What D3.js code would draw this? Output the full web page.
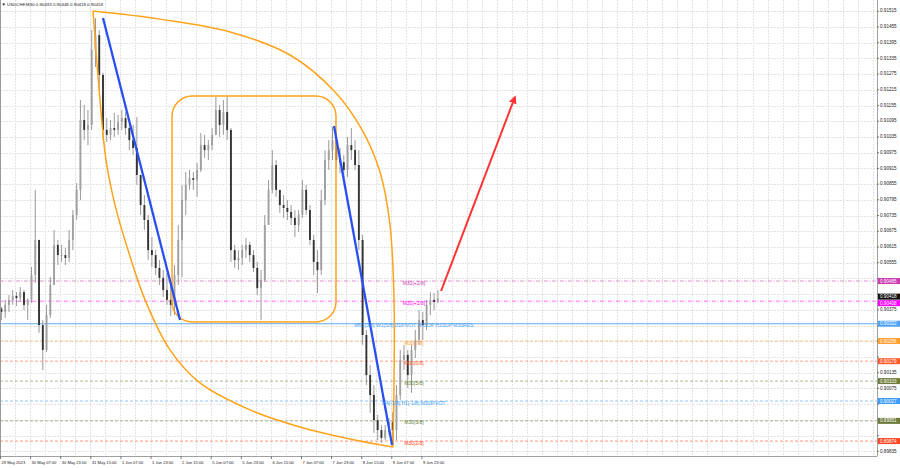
<!DOCTYPE html>
<html><head><meta charset="utf-8">
<script src="https://cdn.jsdelivr.net/npm/d3@7"></script>
<style>
body{margin:0;background:#fff}
svg{display:block}
text{font-family:"Liberation Sans",Arial,sans-serif}
</style>
</head><body>
<svg id="c" width="900" height="468"></svg>
<script>
// ---------- DATA ----------
const symbolInfo = "USDCHF,M30";
const lastOHLC = ["0.90433","0.90448","0.90418","0.90418"];
const timeLabels = ["29 May 2023","30 May 07:00","30 May 23:00","31 May 15:00","1 Jun 07:00","1 Jun 23:00",
  "2 Jun 15:00","5 Jun 07:00","5 Jun 23:00","6 Jun 15:00","7 Jun 07:00","7 Jun 23:00","8 Jun 15:00",
  "9 Jun 07:00","9 Jun 23:00"];
const barsPerLabel = 32;      // M30 bars between time labels
const barsPerCandle = 4;      // each drawn candle groups 4 M30 bars
const priceTicks = [0.91515,0.91455,0.91395,0.91335,0.91275,0.91215,0.91155,0.91095,0.91035,0.90975,
  0.90915,0.90855,0.90795,0.90735,0.90675,0.90615,0.90555,0.90495,0.90435,0.90375,0.90315,0.90255,
  0.90195,0.90135,0.90075,0.90015,0.89955,0.89895,0.89835];
const firstOpen = 0.90380;
const highs = [0.90386,0.90413,0.90432,0.90451,0.90443,0.90462,0.90451,0.90420,0.90539,0.90833,
  0.90642,0.90336,0.90394,0.90500,0.90680,0.90642,0.90623,0.90611,0.90680,0.90756,
  0.90859,0.91176,0.91157,0.91138,0.91443,0.91489,0.91443,0.91280,0.91107,0.91100,
  0.91127,0.91119,0.91138,0.91130,0.91088,0.91081,0.91111,0.90890,0.90813,0.90737,
  0.90653,0.90603,0.90565,0.90527,0.90516,0.90470,0.90546,0.90699,0.90852,0.90901,
  0.90909,0.90901,0.90936,0.91050,0.91043,0.91023,0.91069,0.91188,0.91157,0.91176,
  0.91188,0.91069,0.90623,0.90603,0.90623,0.90649,0.90634,0.90603,0.90558,0.90527,
  0.90737,0.90871,0.90985,0.90947,0.90833,0.90813,0.90794,0.90775,0.90756,0.90756,
  0.90871,0.90852,0.90775,0.90661,0.90603,0.90833,0.90985,0.91023,0.91073,0.91043,
  0.90993,0.90966,0.91035,0.91069,0.91023,0.90985,0.90661,0.90298,0.90164,0.90088,
  0.89974,0.89935,0.89935,0.89962,0.89985,0.90088,0.90222,0.90241,0.90222,0.90241,
  0.90298,0.90374,0.90367,0.90413,0.90443,0.90439,0.90451];
const lows = [0.90336,0.90344,0.90367,0.90394,0.90390,0.90405,0.90374,0.90336,0.90401,0.90478,
  0.90287,0.90145,0.90214,0.90344,0.90470,0.90546,0.90558,0.90546,0.90558,0.90603,
  0.90718,0.90794,0.91023,0.91004,0.91062,0.91302,0.91214,0.91023,0.91016,0.91023,
  0.91035,0.91043,0.91062,0.91043,0.90985,0.90966,0.90852,0.90737,0.90680,0.90565,
  0.90539,0.90508,0.90470,0.90424,0.90394,0.90351,0.90355,0.90470,0.90500,0.90737,
  0.90833,0.90833,0.90806,0.90901,0.90955,0.90947,0.90985,0.91043,0.91035,0.91043,
  0.91023,0.90558,0.90535,0.90527,0.90546,0.90573,0.90558,0.90519,0.90432,0.90336,
  0.90481,0.90699,0.90820,0.90806,0.90745,0.90726,0.90718,0.90699,0.90653,0.90672,
  0.90726,0.90737,0.90623,0.90508,0.90439,0.90508,0.90775,0.90909,0.90947,0.90917,
  0.90897,0.90878,0.90882,0.90947,0.90909,0.90603,0.90241,0.90088,0.89981,0.89905,
  0.89878,0.89867,0.89878,0.89897,0.89867,0.89878,0.90031,0.90145,0.90077,0.90058,
  0.90191,0.90241,0.90260,0.90298,0.90355,0.90374,0.90400];
const closes = [0.90367,0.90394,0.90413,0.90428,0.90420,0.90443,0.90394,0.90413,0.90508,0.90642,
  0.90317,0.90222,0.90355,0.90470,0.90623,0.90584,0.90584,0.90573,0.90642,0.90737,
  0.90833,0.91100,0.91062,0.91081,0.91367,0.91424,0.91272,0.91062,0.91043,0.91069,
  0.91062,0.91092,0.91107,0.91069,0.91023,0.90993,0.90890,0.90775,0.90718,0.90603,
  0.90584,0.90535,0.90497,0.90451,0.90413,0.90394,0.90508,0.90642,0.90794,0.90852,
  0.90878,0.90871,0.90909,0.91004,0.90985,0.91004,0.91043,0.91138,0.91081,0.91130,
  0.91062,0.90603,0.90565,0.90573,0.90603,0.90623,0.90584,0.90535,0.90458,0.90489,
  0.90699,0.90833,0.90928,0.90833,0.90775,0.90764,0.90749,0.90726,0.90699,0.90737,
  0.90833,0.90756,0.90642,0.90558,0.90527,0.90794,0.90947,0.90985,0.91023,0.90947,
  0.90939,0.90909,0.91004,0.90985,0.90928,0.90642,0.90279,0.90126,0.90050,0.89954,
  0.89916,0.89886,0.89916,0.89947,0.89916,0.90050,0.90184,0.90203,0.90126,0.90222,
  0.90260,0.90336,0.90317,0.90394,0.90413,0.90405,0.90418];

// level lines (Murrey / pivots)
const levelNames = ["M30[+2/8]","M30[+1/8]","MN1[3/8] W1[5/8] D1PIVOT H4SUP H1SUP M30RES","M30[7/8]",
  "M30[6/8]","M30[5/8]","H4[-1/8] H1[-1/8] M30PIVOT","M30[3/8]","M30[2/8]"];
const levelPrices = [0.90485,0.90408,0.90322,0.90256,0.90179,0.90103,0.90027,0.89951,0.89874];
const bidPrice = 0.90418;

// drawn objects, in (bar index, price)
const trend1 = [[109.5,0.91489],[191.4,0.90336]];
const trend2 = [[355.1,0.91077],[416.8,0.89859]];
const arrowPts = [[468.9,0.90447],[547.5,0.91188]];
const rangeBox = {b0:182.9, b1:357.2, pTop:0.91191, pBot:0.90329};
const arcUpper = [[98.9,0.91516],[170.1,0.91485],[244.5,0.91436],[308.3,0.91348],[356.2,0.91207],
  [384.9,0.91062],[404.0,0.90901],[414.6,0.90699],[418.9,0.90413],[418.9,0.90107],[417.8,0.89851]];
const arcLower = [[98.9,0.91516],[106.3,0.91176],[112.7,0.90947],[122.3,0.90775],[136.1,0.90603],
  [154.2,0.90413],[180.7,0.90222],[212.6,0.90096],[265.8,0.89993],[318.9,0.89928],[372.1,0.89882],[417.8,0.89851]];

// ---------- STYLES ----------
const levelColors = ["#c93cb0","#ff00ff","#4ea3f5","#ff9d2e","#ff5a2a","#6e7d3c","#3d9cf5","#6e7d3c","#ff4422"];
const levelDash = ["4,1.5,1,1.5","4,1.5,1,1.5",null,"3,2","3,2","3,2","3,2","3,2","3,2"];
const bidColor = "#111";

// ---------- CHART ----------
const plotR = 877, plotB = 456;
const svg = d3.select("#c");
const x = d3.scaleLinear().domain([0,935]).range([0,879.5]);
const y = d3.scaleLinear().domain([0.89817,0.91558]).range([plotB,0]);

svg.append("defs").append("clipPath").attr("id","clip")
  .append("rect").attr("x",0).attr("y",0).attr("width",plotR).attr("height",plotB);
svg.select("defs").append("marker").attr("id","ah").attr("viewBox","0 0 10 10")
  .attr("refX",8).attr("refY",5).attr("markerWidth",4).attr("markerHeight",4).attr("orient","auto")
  .append("path").attr("d","M0,0 L10,5 L0,10 z").attr("fill","#ff3333");

const plot = svg.append("g").attr("clip-path","url(#clip)");

// grid
const gridBars = d3.range(0, 936, barsPerLabel/2);
plot.append("g").selectAll("line").data(gridBars).join("line")
  .attr("x1",d=>Math.round(x(d))+0.5).attr("x2",d=>Math.round(x(d))+0.5)
  .attr("y1",0).attr("y2",plotB).attr("stroke","#e3e3e3").attr("stroke-dasharray","2,1");
plot.append("g").selectAll("line").data(priceTicks).join("line")
  .attr("x1",0).attr("x2",plotR)
  .attr("y1",d=>Math.round(y(d))+0.5).attr("y2",d=>Math.round(y(d))+0.5)
  .attr("stroke","#e3e3e3").attr("stroke-dasharray","2,1");

// level lines
plot.append("g").selectAll("line").data(levelPrices).join("line")
  .attr("x1",0).attr("x2",plotR)
  .attr("y1",d=>y(d)).attr("y2",d=>y(d))
  .attr("stroke",(d,i)=>levelColors[i]).attr("stroke-width",(d,i)=>levelDash[i]?0.8:1.1)
  .attr("stroke-opacity",(d,i)=>levelDash[i]?0.7:0.9)
  .attr("stroke-dasharray",(d,i)=>levelDash[i]);

// candles
const candles = closes.map((c,i)=>({
  b: i*barsPerCandle + (barsPerCandle-1)/2,
  o: i===0 ? firstOpen : closes[i-1], h: highs[i], l: lows[i], c: c }));
const cw = x(barsPerCandle) - x(0);
const cg = plot.append("g");
cg.selectAll("line").data(candles).join("line")
  .attr("x1",d=>x(d.b)).attr("x2",d=>x(d.b))
  .attr("y1",d=>y(d.h)).attr("y2",d=>y(d.l))
  .attr("stroke","#999").attr("stroke-width",1);
cg.selectAll("rect").data(candles).join("rect")
  .attr("x",d=>x(d.b)-cw*0.25).attr("width",cw*0.5)
  .attr("y",d=>y(Math.max(d.o,d.c))).attr("height",d=>Math.max(0.8,Math.abs(y(d.o)-y(d.c))))
  .attr("fill",d=>d.c>=d.o?"#a0a0a0":"#333");

// orange objects
const ln = d3.line().x(d=>x(d[0])).y(d=>y(d[1]));
const lnCurve = d3.line().x(d=>x(d[0])).y(d=>y(d[1])).curve(d3.curveCatmullRom.alpha(0.5));
plot.append("rect")
  .attr("x",x(rangeBox.b0)).attr("y",y(rangeBox.pTop))
  .attr("width",x(rangeBox.b1)-x(rangeBox.b0)).attr("height",y(rangeBox.pBot)-y(rangeBox.pTop))
  .attr("rx",20).attr("ry",20).attr("fill","none").attr("stroke","#ffa31a").attr("stroke-width",1.5);
plot.append("path").attr("d",lnCurve(arcUpper)).attr("fill","none").attr("stroke","#ffa31a").attr("stroke-width",1.5);
plot.append("path").attr("d",lnCurve(arcLower)).attr("fill","none").attr("stroke","#ffa31a").attr("stroke-width",1.5);

// blue trend lines
[trend1,trend2].forEach(t=>plot.append("path").attr("d",ln(t)).attr("fill","none")
  .attr("stroke","#2a4ff0").attr("stroke-width",2.3));

// red arrow
plot.append("path").attr("d",ln(arrowPts)).attr("fill","none")
  .attr("stroke","#ff3333").attr("stroke-width",2).attr("marker-end","url(#ah)");

// level labels
const labelCenterBar = 440;
plot.append("g").selectAll("text").data(levelNames).join("text")
  .attr("x",x(labelCenterBar)).attr("y",(d,i)=>y(levelPrices[i])+2.2)
  .attr("text-anchor","middle").attr("dominant-baseline","middle")
  .attr("font-size",5).attr("fill",(d,i)=>levelColors[i]).text(d=>d);

// header
svg.append("text").attr("x",1.5).attr("y",6.2).attr("font-size",4.4).attr("fill","#222")
  .text("\u25BC " + symbolInfo + "  " + lastOHLC.join(" "));

// frame
svg.append("line").attr("x1",0.5).attr("x2",0.5).attr("y1",0).attr("y2",plotB).attr("stroke","#9a9a9a");
svg.append("line").attr("x1",plotR+0.5).attr("x2",plotR+0.5).attr("y1",0).attr("y2",plotB+0.5).attr("stroke","#a0a0a0");
svg.append("line").attr("x1",0).attr("x2",plotR).attr("y1",plotB+0.5).attr("y2",plotB+0.5).attr("stroke","#a0a0a0");

// price boxes (level prices + bid) with simple collision avoidance
const boxH = 6;
let boxes = levelPrices.map((p,i)=>({p, color: levelColors[i]}));
boxes.push({p: bidPrice, color: bidColor});
boxes.forEach(b=>b.cy=y(b.p));
boxes.sort((a,b)=>a.cy-b.cy);
for (let k=1;k<boxes.length;k++){
  const gap = boxes[k].cy - boxes[k-1].cy;
  if (gap < boxH+0.5){ const s=(boxH+0.5-gap)/2; boxes[k-1].cy-=s; boxes[k].cy+=s; }
}

// price axis (labels hidden where a price box sits on them)
const visibleTicks = priceTicks.filter(p=>boxes.every(b=>Math.abs(b.cy-y(p))>boxH));
const pa = svg.append("g");
pa.selectAll("line").data(priceTicks).join("line")
  .attr("x1",plotR).attr("x2",plotR+2).attr("y1",d=>y(d)).attr("y2",d=>y(d)).attr("stroke","#777");
pa.selectAll("text").data(visibleTicks).join("text")
  .attr("x",plotR+3).attr("y",d=>y(d)).attr("dominant-baseline","middle")
  .attr("font-size",4.6).attr("fill","#222").text(d=>d.toFixed(5));

// time axis
const ta = svg.append("g");
ta.selectAll("line").data(timeLabels).join("line")
  .attr("x1",(d,i)=>x(i*barsPerLabel)+0.5).attr("x2",(d,i)=>x(i*barsPerLabel)+0.5)
  .attr("y1",plotB).attr("y2",plotB+3).attr("stroke","#777");
ta.selectAll("text").data(timeLabels).join("text")
  .attr("x",(d,i)=>x(i*barsPerLabel)+1.5).attr("y",plotB+6.5).attr("dominant-baseline","middle")
  .attr("font-size",4.1).attr("fill","#222").text(d=>d);

const bg = svg.append("g");
bg.selectAll("rect").data(boxes).join("rect")
  .attr("x",plotR+1).attr("width",900-plotR-1).attr("y",d=>d.cy-boxH/2).attr("height",boxH)
  .attr("fill",d=>d.color);
bg.selectAll("text").data(boxes).join("text")
  .attr("x",plotR+3).attr("y",d=>d.cy+0.3).attr("dominant-baseline","middle")
  .attr("font-size",4.6).attr("fill","#fff").text(d=>d.p.toFixed(5));
</script>
</body></html>
